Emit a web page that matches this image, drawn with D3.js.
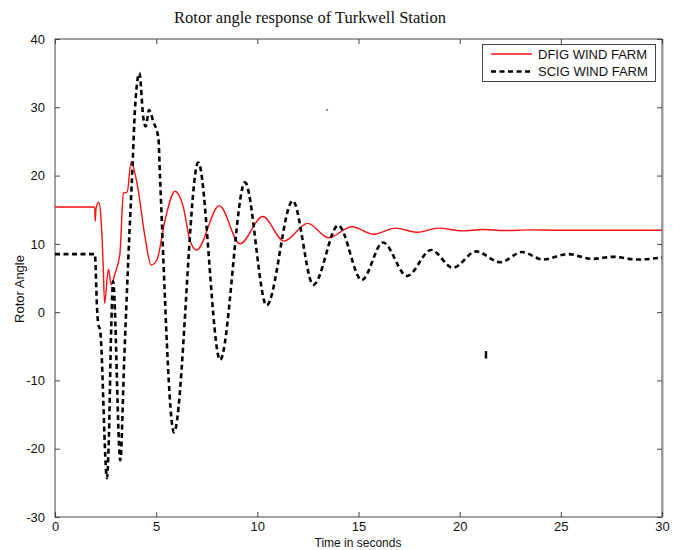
<!DOCTYPE html>
<html><head><meta charset="utf-8">
<script src="https://cdn.jsdelivr.net/npm/d3@7"></script>
<style>
html,body{margin:0;padding:0;background:#fff;}
svg{display:block;}
text{font-family:"Liberation Sans",Arial,sans-serif;}
</style></head>
<body>
<svg id="c" width="684" height="550"></svg>
<script>
// ---- data ----
const title = "Rotor angle response of Turkwell Station";
const xLabel = "Time in seconds";
const yLabel = "Rotor Angle";
const seriesNames = ["DFIG WIND FARM", "SCIG WIND FARM"];
const xTicks = [0, 5, 10, 15, 20, 25, 30];
const yTicks = [-30, -20, -10, 0, 10, 20, 30, 40];

const dfigT = [0, 1.96, 1.99, 2.02, 2.16, 2.28, 2.38, 2.45, 2.64, 2.78, 2.97, 3.21, 3.38, 3.57, 3.76, 4.07, 4.45, 4.75, 5.03, 5.44, 5.93, 6.34, 6.67, 7.0, 8.12, 9.14, 10.27, 11.32, 12.49, 13.51, 14.67, 15.77, 16.81, 17.94, 18.93, 20.12, 21.16, 22.24, 23.5, 25.0, 27.0, 30.0];
const dfigV = [15.4, 15.4, 13.3, 15.0, 16.1, 13.5, 7.0, 1.3, 6.3, 4.0, 5.7, 8.6, 17.4, 17.6, 22.0, 18.6, 11.0, 6.9, 7.6, 13.5, 17.7, 15.4, 10.5, 9.1, 15.6, 10.0, 14.0, 10.4, 13.0, 10.9, 12.5, 11.4, 12.3, 11.7, 12.3, 11.9, 12.1, 11.95, 12.05, 12.0, 12.0, 12.0];

const scigT = [0, 1.97, 2.08, 2.13, 2.24, 2.57, 2.65, 2.78, 2.87, 3.23, 3.42, 3.62, 3.84, 3.95, 4.17, 4.36, 4.48, 4.65, 4.86, 5.11, 5.19, 5.88, 7.08, 8.16, 9.39, 10.46, 11.75, 12.77, 14.0, 15.16, 16.21, 17.4, 18.59, 19.67, 20.81, 22.0, 23.08, 24.12, 25.36, 26.54, 27.58, 28.77, 30.0];
const scigV = [8.5, 8.5, 0.5, -1.6, -2.9, -24.3, -19.7, -2.2, 4.5, -21.7, -7.0, 7.6, 22.0, 29.6, 35.0, 28.6, 27.2, 29.6, 27.9, 25.5, 19.8, -17.6, 21.9, -7.0, 19.0, 1.0, 16.3, 4.0, 12.7, 4.7, 10.2, 5.3, 9.1, 6.5, 8.9, 7.3, 8.8, 7.7, 8.5, 7.8, 8.1, 7.7, 8.0];

// stray marks visible in the original figure
const strayDotT = [13.45], strayDotV = [29.6];
const strayBarT = [21.3], strayBarV0 = [-5.7], strayBarV1 = [-6.8];

// ---- layout ----
const svg = d3.select("#c");
const L = 55, R = 662, T = 39, B = 517;
const x = d3.scaleLinear().domain([0, 30]).range([L, R]);
const y = d3.scaleLinear().domain([-30, 40]).range([B, T]);

// title
svg.append("text").attr("x", 310).attr("y", 23).attr("text-anchor", "middle")
  .style("font-family", '"Liberation Serif","Times New Roman",serif')
  .style("font-size", "16.5px").attr("fill", "#111").text(title);

// frame
svg.append("rect").attr("x", L).attr("y", T).attr("width", R - L).attr("height", B - T)
  .attr("fill", "none").attr("stroke", "#444").attr("stroke-width", 1);
svg.append("line").attr("x1", R + 0.5).attr("x2", R + 0.5).attr("y1", T).attr("y2", B)
  .attr("stroke", "#999").attr("stroke-width", 2);

// axes (ticks inward)
const fmt = d => String(d);
const axB = d3.axisBottom(x).tickValues(xTicks).tickSize(-5).tickPadding(5).tickFormat(fmt);
const axT = d3.axisTop(x).tickValues(xTicks).tickSize(-5).tickFormat("");
const axL = d3.axisLeft(y).tickValues(yTicks).tickSize(-5).tickPadding(10).tickFormat(fmt);
const axR = d3.axisRight(y).tickValues(yTicks).tickSize(-5).tickFormat("");
function styleAxis(g){
  g.select(".domain").remove();
  g.selectAll(".tick line").attr("stroke", "#444");
  g.selectAll(".tick text").attr("fill", "#111").style("font-size", "13px")
    .style("font-family", '"Liberation Sans",Arial,sans-serif');
}
svg.append("g").attr("transform", `translate(0,${B})`).call(axB).call(styleAxis);
svg.append("g").attr("transform", `translate(0,${T})`).call(axT).call(styleAxis);
svg.append("g").attr("transform", `translate(${L},0)`).call(axL).call(styleAxis);
svg.append("g").attr("transform", `translate(${R},0)`).call(axR).call(styleAxis);

// axis labels
svg.append("text").attr("x", 358).attr("y", 547).attr("text-anchor", "middle")
  .style("font-size", "12px").attr("fill", "#111").text(xLabel);
svg.append("text").attr("transform", "translate(24,289) rotate(-90)").attr("text-anchor", "middle")
  .style("font-size", "13px").attr("fill", "#111").text(yLabel);

// lines
const line = d3.line().x(d => x(d[0])).y(d => y(d[1])).curve(d3.curveMonotoneX);
svg.append("clipPath").attr("id", "pc").append("rect")
  .attr("x", L).attr("y", T).attr("width", R - L).attr("height", B - T);
const plot = svg.append("g").attr("clip-path", "url(#pc)");

const scig = scigT.map((t, i) => [t, scigV[i]]);
const dfig = dfigT.map((t, i) => [t, dfigV[i]]);

plot.append("path").datum(dfig).attr("d", line).attr("fill", "none")
  .attr("stroke", "#ff1010").attr("stroke-width", 1.4);
plot.append("path").datum(scig).attr("d", line).attr("fill", "none")
  .attr("stroke", "#000").attr("stroke-width", 2.6).attr("stroke-dasharray", "5,3.5");

// stray marks
plot.selectAll(".sd").data(strayDotT).enter().append("rect")
  .attr("x", (d) => x(d) - 1).attr("y", (d, i) => y(strayDotV[i]) - 1)
  .attr("width", 2).attr("height", 2).attr("fill", "#888");
plot.selectAll(".sb").data(strayBarT).enter().append("line")
  .attr("x1", d => x(d)).attr("x2", d => x(d))
  .attr("y1", (d, i) => y(strayBarV0[i])).attr("y2", (d, i) => y(strayBarV1[i]))
  .attr("stroke", "#111").attr("stroke-width", 2.5);

// legend
const lg = svg.append("g");
lg.append("rect").attr("x", 482.5).attr("y", 44.5).attr("width", 173).attr("height", 37)
  .attr("fill", "#fff").attr("stroke", "#444").attr("stroke-width", 1);
const lgStyles = [
  {stroke: "#ff1010", w: 1.4, dash: null},
  {stroke: "#000", w: 2.6, dash: "5,3.5"}
];
seriesNames.forEach((name, i) => {
  const yy = 54 + i * 17.5;
  lg.append("line").attr("x1", 491).attr("x2", 532).attr("y1", yy).attr("y2", yy)
    .attr("stroke", lgStyles[i].stroke).attr("stroke-width", lgStyles[i].w)
    .attr("stroke-dasharray", lgStyles[i].dash);
  lg.append("text").attr("x", 538).attr("y", yy).attr("dy", "0.35em")
    .style("font-size", "13px").attr("fill", "#111").text(name);
});
</script>
</body></html>
